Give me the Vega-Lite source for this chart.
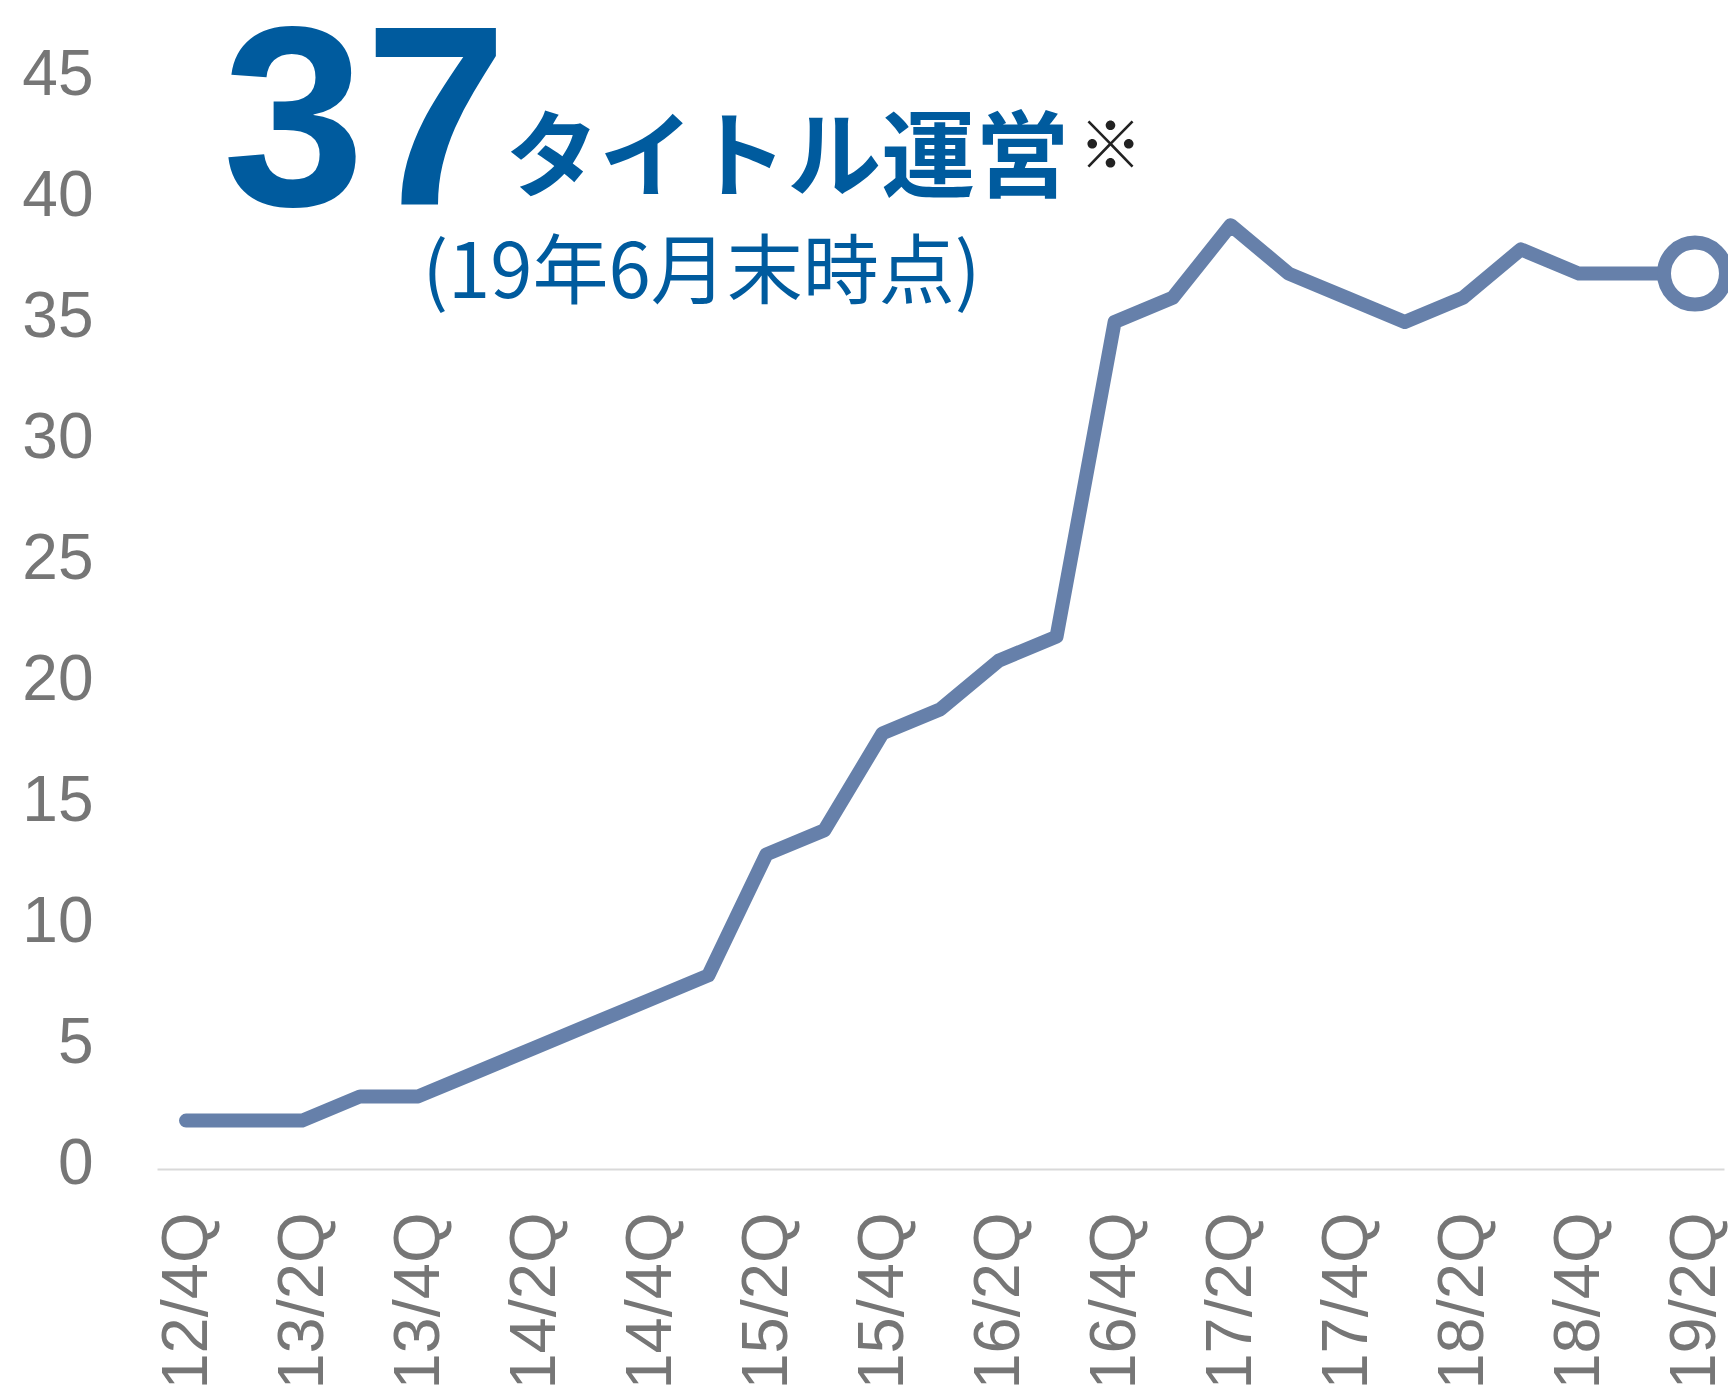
{
  "$schema": "https://vega.github.io/schema/vega-lite/v6.json",
  "width": 1567,
  "height": 1089,
  "autosize": {"type": "none"},
  "padding": {"left": 157, "top": 80, "right": 4, "bottom": 224},
  "background": "white",
  "config": {"view": {"stroke": null}},
  "datasets": {
    "series": [
      {"quarter": "12/4Q", "titles": 2},
      {"quarter": "13/1Q", "titles": 2},
      {"quarter": "13/2Q", "titles": 2},
      {"quarter": "13/3Q", "titles": 3},
      {"quarter": "13/4Q", "titles": 3},
      {"quarter": "14/1Q", "titles": 4},
      {"quarter": "14/2Q", "titles": 5},
      {"quarter": "14/3Q", "titles": 6},
      {"quarter": "14/4Q", "titles": 7},
      {"quarter": "15/1Q", "titles": 8},
      {"quarter": "15/2Q", "titles": 13},
      {"quarter": "15/3Q", "titles": 14},
      {"quarter": "15/4Q", "titles": 18},
      {"quarter": "16/1Q", "titles": 19},
      {"quarter": "16/2Q", "titles": 21},
      {"quarter": "16/3Q", "titles": 22},
      {"quarter": "16/4Q", "titles": 35},
      {"quarter": "17/1Q", "titles": 36},
      {"quarter": "17/2Q", "titles": 39},
      {"quarter": "17/3Q", "titles": 37},
      {"quarter": "17/4Q", "titles": 36},
      {"quarter": "18/1Q", "titles": 35},
      {"quarter": "18/2Q", "titles": 36},
      {"quarter": "18/3Q", "titles": 38},
      {"quarter": "18/4Q", "titles": 37},
      {"quarter": "19/1Q", "titles": 37},
      {"quarter": "19/2Q", "titles": 37}
    ]
  },
  "layer": [
    {
      "data": {"name": "series"},
      "mark": {"type": "line", "color": "#6680aa", "strokeWidth": 14, "strokeCap": "round", "strokeJoin": "round"},
      "encoding": {
        "x": {
          "field": "quarter", "type": "ordinal", "sort": null,
          "scale": {"type": "point", "padding": 0.5},
          "axis": {
            "title": null,
            "values": ["12/4Q", "13/2Q", "13/4Q", "14/2Q", "14/4Q", "15/2Q", "15/4Q", "16/2Q", "16/4Q", "17/2Q", "17/4Q", "18/2Q", "18/4Q", "19/2Q"],
            "labelAngle": -90,
            "labelFont": "Liberation Sans",
            "labelFontSize": 65,
            "labelColor": "#767676",
            "labelPadding": 43,
            "ticks": false,
            "tickSize": 0,
            "grid": false,
            "domain": true,
            "domainColor": "#d9d9d9",
            "domainWidth": 2,
            "labelOverlap": false
          }
        },
        "y": {
          "field": "titles", "type": "quantitative",
          "scale": {"domain": [0, 45], "nice": false},
          "axis": {
            "title": null,
            "values": [0, 5, 10, 15, 20, 25, 30, 35, 40, 45],
            "labelFont": "Liberation Sans",
            "labelFontSize": 64,
            "labelColor": "#767676",
            "labelPadding": 64,
            "labelOffset": -5,
            "ticks": false,
            "tickSize": 0,
            "grid": false,
            "domain": false
          }
        }
      }
    },
    {
      "data": {"name": "series"},
      "transform": [{"filter": "datum.quarter === '19/2Q'"}],
      "mark": {"type": "point", "shape": "circle", "size": 3844, "filled": false, "fill": "white", "fillOpacity": 1, "stroke": "#6680aa", "strokeWidth": 14, "opacity": 1},
      "encoding": {
        "x": {"field": "quarter", "type": "ordinal", "sort": null},
        "y": {"field": "titles", "type": "quantitative"}
      }
    },
    {
      "data": {"values": [{"label": "37"}]},
      "mark": {"type": "text", "font": "Liberation Sans", "fontWeight": "bold", "fontSize": 256, "color": "#005b9e", "align": "right", "baseline": "alphabetic", "dx": 31, "dy": 4},
      "encoding": {
        "text": {"field": "label"},
        "x": {"datum": "14/1Q", "type": "ordinal"},
        "y": {"datum": 40, "type": "quantitative"}
      }
    },
    {
      "data": {"values": [{"label": "タイトル運営"}]},
      "mark": {"type": "text", "font": "Noto Sans CJK JP", "fontWeight": "bold", "fontSize": 94, "color": "#005b9e", "align": "left", "baseline": "alphabetic", "dx": 29, "dy": -11},
      "encoding": {
        "text": {"field": "label"},
        "x": {"datum": "14/1Q", "type": "ordinal"},
        "y": {"datum": 40, "type": "quantitative"}
      }
    },
    {
      "data": {"values": [{"label": "※"}]},
      "mark": {"type": "text", "font": "Noto Sans CJK JP", "fontWeight": "normal", "fontSize": 64, "color": "#222222", "align": "center", "baseline": "middle", "dx": -4, "dy": -52},
      "encoding": {
        "text": {"field": "label"},
        "x": {"datum": "16/4Q", "type": "ordinal"},
        "y": {"datum": 40, "type": "quantitative"}
      }
    },
    {
      "data": {"values": [{"label": "(19年6月末時点)"}]},
      "mark": {"type": "text", "font": "Noto Sans CJK JP", "fontWeight": "normal", "fontSize": 76, "color": "#005b9e", "align": "center", "baseline": "alphabetic", "dx": -7, "dy": 0},
      "encoding": {
        "text": {"field": "label"},
        "x": {"datum": "15/1Q", "type": "ordinal"},
        "y": {"datum": 36, "type": "quantitative"}
      }
    }
  ]
}
